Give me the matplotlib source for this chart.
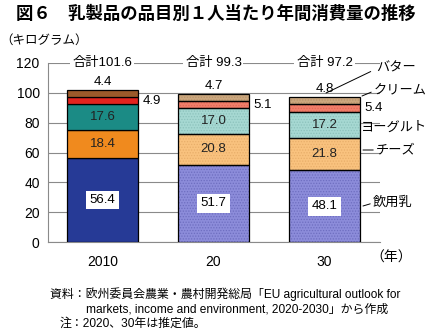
import matplotlib
matplotlib.use("Agg")
import matplotlib.pyplot as plt
import numpy as np

plt.rcParams['font.family'] = ['Liberation Sans', 'Noto Sans CJK JP', 'DejaVu Sans']
plt.rcParams['hatch.linewidth'] = 0.6

years = ["2010", "20", "30"]
categories = ["飲用乳", "チーズ", "ヨーグルト", "クリーム", "バター"]
milk = [56.4, 51.7, 48.1]
cheese = [18.4, 20.8, 21.8]
yogurt = [17.6, 17.0, 17.2]
cream = [4.9, 5.1, 5.4]
butter = [4.4, 4.7, 4.8]
totals = ["合計101.6", "合計 99.3", "合計 97.2"]
series = [milk, cheese, yogurt, cream, butter]

solid_colors = ["#263A96", "#F08A1E", "#1B8B85", "#E3231E", "#9B5A2A"]
light_colors = ["#8C8CDA", "#F9C27E", "#A6D8D2", "#F27E6A", "#CBA77E"]
hatch_colors = ["#6E6EC0", "#E8AE6A", "#8CC2BC", "#E06A58", "#B8946C"]

W, H = 427, 331
fig = plt.figure(figsize=(W / 100, H / 100), dpi=100)
ax = fig.add_axes([48 / W, 1 - 242 / H, (380 - 48) / W, (242 - 63) / H])

x = np.arange(len(years))
width = 0.64
bottoms = np.zeros(len(years))
for i, vals in enumerate(series):
    vals = np.array(vals)
    for j in range(len(years)):
        if j == 0:
            ax.bar(x[j], vals[j], width, bottom=bottoms[j], color=solid_colors[i],
                   edgecolor="black", linewidth=0.9, zorder=3)
        else:
            ax.bar(x[j], vals[j], width, bottom=bottoms[j], color=light_colors[i],
                   edgecolor=hatch_colors[i], hatch="......", linewidth=0, zorder=3)
            ax.bar(x[j], vals[j], width, bottom=bottoms[j], facecolor="none",
                   edgecolor="black", linewidth=0.9, zorder=4)
    bottoms += vals

# value labels
fs = 9.5
b = np.zeros(len(years))
for i, vals in enumerate(series):
    for j in range(len(years)):
        v = vals[j]
        cy = b[j] + v / 2
        if i == 0:
            ax.text(x[j], cy, f"{v:.1f}", ha="center", va="center", fontsize=fs, zorder=6,
                    bbox=dict(facecolor="white", edgecolor="none", pad=2.5))
        elif i in (1, 2):
            ax.text(x[j], cy, f"{v:.1f}", ha="center", va="center", fontsize=fs, zorder=6,
                    color="#222222")
        elif i == 3:
            ax.text(x[j] + width / 2 + 0.04, cy, f"{v:.1f}", ha="left", va="center",
                    fontsize=fs, zorder=6)
        else:
            ax.text(x[j], b[j] + v + 1.3, f"{v:.1f}", ha="center", va="bottom",
                    fontsize=fs, zorder=6)
    b += np.array(vals)

for j in range(len(years)):
    ax.text(x[j], 120, totals[j], ha="center", va="center", fontsize=fs, zorder=6,
            bbox=dict(facecolor="white", edgecolor="none", pad=1.5))

ax.set_xlim(-0.49, 2.5)
ax.set_ylim(0, 120)
ax.set_yticks(np.arange(0, 121, 20))
ax.set_yticklabels([str(v) for v in range(0, 121, 20)], fontsize=10)
ax.set_xticks(x)
ax.set_xticklabels(years, fontsize=10)
ax.tick_params(axis="both", length=0, pad=6)
ax.tick_params(axis="x", pad=9)
ax.yaxis.grid(True, color="#8a8a8a", linewidth=0.8, zorder=0)
for s in ["top", "right"]:
    ax.spines[s].set_visible(False)
ax.spines["left"].set_color("#8a8a8a")
ax.spines["bottom"].set_color("#8a8a8a")
ax.set_axisbelow(True)

def fp(px, py):
    return (px / W, 1 - py / H)

cat_fs = 9.5
ax.annotate("バター", xy=fp(326, 93), xycoords="figure fraction", xytext=fp(376, 69),
            textcoords="figure fraction", ha="left", va="center", fontsize=cat_fs,
            arrowprops=dict(arrowstyle="-", color="black", lw=0.7, shrinkB=0,
                            relpos=(0, 0.5)))
ax.annotate("クリーム", xy=fp(362, 96), xycoords="figure fraction", xytext=fp(374, 91),
            textcoords="figure fraction", ha="left", va="center", fontsize=cat_fs,
            arrowprops=dict(arrowstyle="-", color="black", lw=0.7, shrinkA=0, shrinkB=0,
                            relpos=(0, 0.5)))
fig.text(*fp(361, 128), "ヨーグルト", ha="left", va="center", fontsize=cat_fs)
ax.annotate("チーズ", xy=fp(363, 150), xycoords="figure fraction", xytext=fp(376, 150),
            textcoords="figure fraction", ha="left", va="center", fontsize=cat_fs,
            arrowprops=dict(arrowstyle="-", color="black", lw=0.7, shrinkA=0, shrinkB=0,
                            relpos=(0, 0.5)))
ax.annotate("飲用乳", xy=fp(363, 206), xycoords="figure fraction", xytext=fp(373, 203),
            textcoords="figure fraction", ha="left", va="center", fontsize=cat_fs,
            arrowprops=dict(arrowstyle="-", color="black", lw=0.7, shrinkA=0, shrinkB=0,
                            relpos=(0, 0.5)))

fig.text(*fp(370, 258), "（年）", ha="left", va="center", fontsize=10)
fig.text(*fp(0, 41), "（キログラム）", ha="left", va="center", fontsize=9)
fig.text(*fp(216, 13), "図６　乳製品の品目別１人当たり年間消費量の推移", ha="center",
         va="center", fontsize=12.5, fontweight="bold")

nfs = 8.6
fig.text(*fp(50, 294), "資料：欧州委員会農業・農村開発総局「EU agricultural outlook for",
         ha="left", va="center", fontsize=nfs)
fig.text(*fp(86, 309), "markets, income and environment, 2020-2030」から作成",
         ha="left", va="center", fontsize=nfs)
fig.text(*fp(60, 324), "注：2020、30年は推定値。", ha="left", va="center", fontsize=nfs)

fig.savefig("out.png", dpi=100)
